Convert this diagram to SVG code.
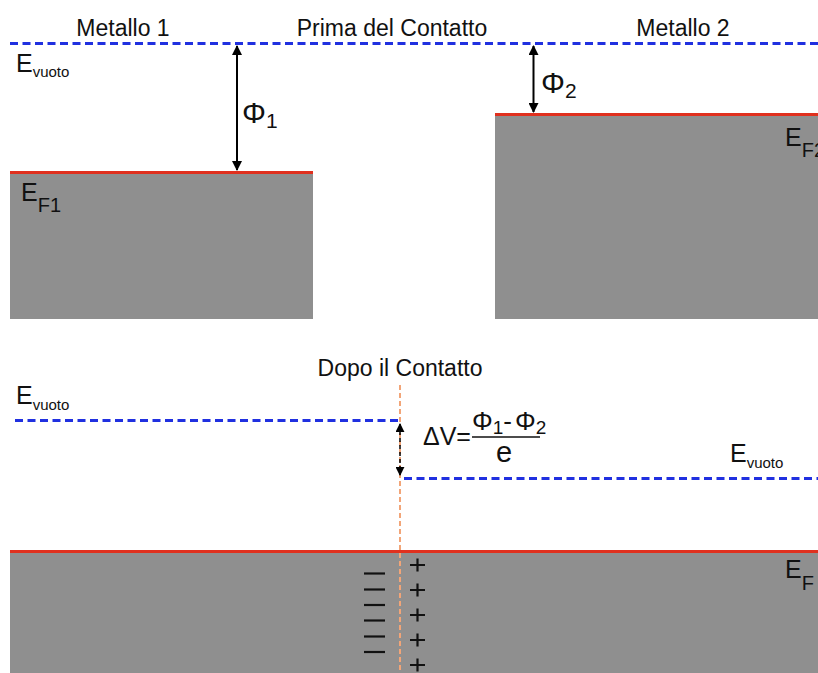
<svg xmlns="http://www.w3.org/2000/svg" width="818" height="673" viewBox="0 0 818 673">
  <defs>
    <style>
      text { font-family: "Liberation Sans", Arial, sans-serif; fill: #111; }
      .title { font-size: 23px; }
      .big { font-size: 25px; }
      .sub { font-size: 15px; }
      .subF { font-size: 20px; }
      .phi { font-size: 30px; }
      .phisub { font-size: 21px; }
      .vac { stroke: #2030e0; stroke-width: 3; stroke-dasharray: 8 4.5; fill: none; }
      .fermi { stroke: #e0301e; stroke-width: 3; fill: none; }
      .band { fill: #8f8f8f; }
      .wf { stroke: #000; stroke-width: 2; fill: none; }
      .iface { stroke: #f2a578; stroke-width: 2; stroke-dasharray: 5 3; fill: none; }
      .minus { stroke: #111; stroke-width: 2.2; }
      .plus { stroke: #111; stroke-width: 2.2; }
    </style>
    <marker id="ah" viewBox="0 0 10 10" refX="9" refY="5" markerWidth="5" markerHeight="5" orient="auto-start-reverse" markerUnits="strokeWidth">
      <path d="M0,0 L10,5 L0,10 z" fill="#000"/>
    </marker>
    <marker id="ahs" viewBox="0 0 10 10" refX="9" refY="5" markerWidth="6" markerHeight="6" orient="auto-start-reverse" markerUnits="strokeWidth">
      <path d="M0,0 L10,5 L0,10 z" fill="#000"/>
    </marker>
  </defs>

  <!-- Before contact -->
  <g id="titles-top">
    <text class="title" x="123" y="36" text-anchor="middle">Metallo 1</text>
    <text class="title" x="392" y="36" text-anchor="middle">Prima del Contatto</text>
    <text class="title" x="683" y="36" text-anchor="middle">Metallo 2</text>
  </g>

  <g id="vacuum-top">
    <line class="vac" x1="10" y1="43.5" x2="818" y2="43.5"/>
    <text class="big" x="16" y="72">E<tspan class="sub" dy="5">vuoto</tspan></text>
  </g>

  <g id="metal1">
    <rect class="band" x="10" y="172" width="303" height="147"/>
    <line class="fermi" x1="10" y1="172.5" x2="313" y2="172.5"/>
    <text class="big" x="21" y="201">E<tspan class="subF" dy="11">F1</tspan></text>
  </g>

  <g id="metal2">
    <rect class="band" x="495" y="114" width="323" height="205"/>
    <line class="fermi" x1="495" y1="114.5" x2="818" y2="114.5"/>
    <text class="big" x="785" y="146">E<tspan class="subF" dy="11">F2</tspan></text>
  </g>

  <g id="phi1">
    <text class="phi" x="242" y="123">Φ<tspan class="phisub" dy="5">1</tspan></text>
  </g>
  <g id="phi2">
    <text class="phi" x="541" y="93">Φ<tspan class="phisub" dy="5">2</tspan></text>
  </g>

  <!-- After contact -->
  <g id="title-bottom">
    <text class="title" x="400" y="376" text-anchor="middle">Dopo il Contatto</text>
  </g>

  <g id="vacuum-left">
    <line class="vac" x1="15" y1="420.5" x2="398" y2="420.5"/>
    <text class="big" x="16" y="404">E<tspan class="sub" dy="6">vuoto</tspan></text>
  </g>

  <g id="vacuum-right">
    <line class="vac" x1="404" y1="478.5" x2="818" y2="478.5"/>
    <text class="big" x="730" y="462">E<tspan class="sub" dy="6">vuoto</tspan></text>
  </g>

  <g id="junction">
    <rect class="band" x="10" y="551" width="808" height="122"/>
    <line class="fermi" x1="10" y1="551.5" x2="818" y2="551.5"/>
    <text class="big" x="785" y="578">E<tspan class="subF" dy="12">F</tspan></text>
    <g id="charges-neg">
      <line class="minus" x1="364" y1="573.5" x2="385" y2="573.5"/>
      <line class="minus" x1="364" y1="589.5" x2="385" y2="589.5"/>
      <line class="minus" x1="364" y1="605" x2="385" y2="605"/>
      <line class="minus" x1="364" y1="620.5" x2="385" y2="620.5"/>
      <line class="minus" x1="364" y1="636.5" x2="385" y2="636.5"/>
      <line class="minus" x1="364" y1="652" x2="385" y2="652"/>
    </g>
    <g id="charges-pos">
      <path class="plus" d="M410,565 h15 M417.5,558.5 v13"/>
      <path class="plus" d="M410,590 h15 M417.5,583.5 v13"/>
      <path class="plus" d="M410,615 h15 M417.5,608.5 v13"/>
      <path class="plus" d="M410,640 h15 M417.5,633.5 v13"/>
      <path class="plus" d="M410,665 h15 M417.5,658.5 v13"/>
    </g>
  </g>

  <g id="delta-v">
    <text x="423" y="445" font-size="25">ΔV=</text>
    <text x="472" y="430" font-size="26">Φ<tspan font-size="19" dy="4">1</tspan><tspan dy="-4">-</tspan><tspan dx="3">Φ</tspan><tspan font-size="19" dy="4">2</tspan></text>
    <line x1="472" y1="437" x2="540" y2="437" stroke="#111" stroke-width="1.6"/>
    <text x="496" y="462" font-size="29">e</text>
  </g>

  <!-- connectors -->
  <g id="connectors">
    <line class="wf" x1="237" y1="46" x2="237" y2="170" marker-start="url(#ah)" marker-end="url(#ah)"/>
    <line class="wf" x1="533.5" y1="46" x2="533.5" y2="112" marker-start="url(#ah)" marker-end="url(#ah)"/>
    <line class="iface" x1="400" y1="385" x2="400" y2="673"/>
    <line x1="400" y1="424" x2="400" y2="475" stroke="#000" stroke-width="1.5" stroke-dasharray="4 3" marker-start="url(#ahs)" marker-end="url(#ahs)"/>
  </g>
</svg>
